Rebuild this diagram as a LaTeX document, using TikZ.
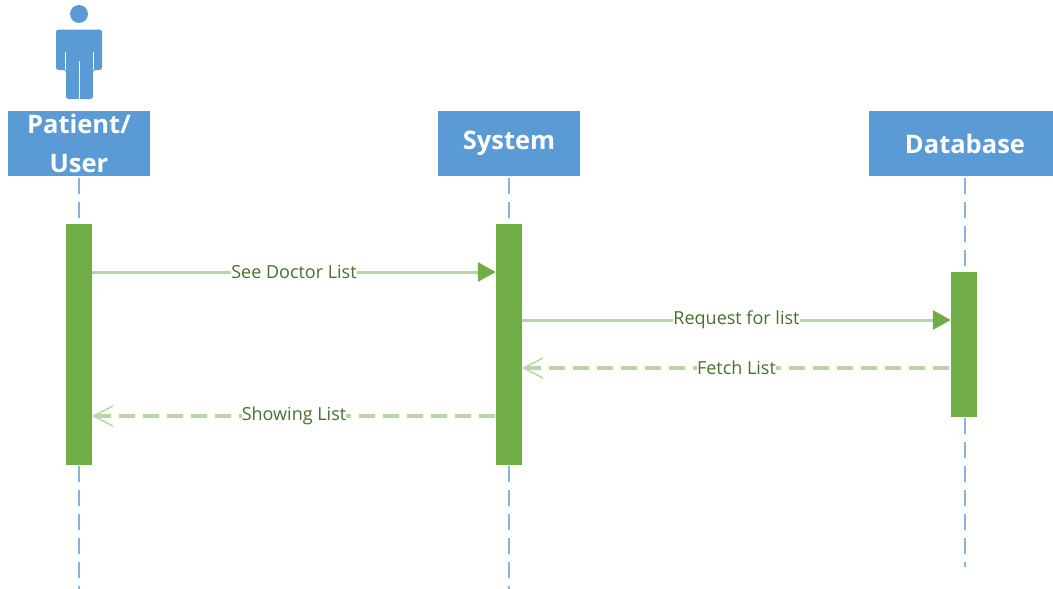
\documentclass[tikz,border=0pt]{standalone}
\usepackage{fontspec}
\setmainfont{Open Sans}
\usetikzlibrary{arrows.meta}
\definecolor{headblue}{HTML}{5B9BD5}
\definecolor{barfill}{HTML}{70AD47}
\definecolor{msgline}{HTML}{B7D6A3}
\tikzset{
  headbox/.style={draw=none, fill=headblue, text=white, font=\bfseries\fontsize{25.5}{39}\selectfont, minimum height=65pt, align=center, inner sep=0pt},
  barbox/.style={draw=none, fill=barfill, minimum width=26pt, inner sep=0pt},
  lifeline/.style={headblue!75!white, line width=2.2pt, dash pattern=on 16pt off 8pt},
  msglabel/.style={midway, fill=white, inner xsep=0pt, inner ysep=1pt, text=barfill!65!black, font=\fontsize{18}{22}\selectfont},
  callmsg/.style={msgline, line width=3pt, -{Triangle[length=18pt,width=19pt,color=barfill]}},
  replymsg/.style={msgline, line width=4pt, dash pattern=on 16pt off 8pt, {Straight Barb[length=19pt,width=20pt,color=msgline,line width=1.5pt]}-},
}
\begin{document}
\begin{tikzpicture}[x=1pt,y=-1pt]
  \useasboundingbox (0,0) rectangle (1053,589);

  % Header boxes
  \node[headbox, minimum width=142pt] (patient) at (79,143.5) {Patient/\\User};
  \node[headbox, minimum width=142pt] (system) at (509,143.5) {System};
  \node[headbox, minimum width=184pt] (database) at (961,143.5) {\hspace*{8pt}Database};

  % Lifelines
  \coordinate (patientend) at (79,589);
  \coordinate (systemend) at (509,589);
  \coordinate (databasetop) at (965,178);
  \coordinate (databaseend) at (965,567);
  \draw[lifeline] (patient.south) ++(0,2) -- (patientend);
  \draw[lifeline] (system.south) ++(0,2) -- (systemend);
  \draw[lifeline] (databasetop) -- (databaseend);

  % Activation bars
  \node[barbox, minimum height=241pt] (patientbar) at (79,344.5) {};
  \node[barbox, minimum height=241pt] (systembar) at (509,344.5) {};
  \node[barbox, minimum height=145pt] (databasebar) at (964,344.5) {};

  % Actor figure
  \fill[headblue] (79,14) circle (9pt);
  \fill[headblue, rounded corners=2.5pt] (56,70) -- (56,29.5) -- (102,29.5) -- (102,70) -- (93,70) -- (93,99) -- (66,99) -- (66,70) -- cycle;
  \draw[white, line width=1pt] (79,61) -- (79,99);
  \draw[white, line width=1pt] (65,52) -- (65,70);
  \draw[white, line width=1pt] (93,52) -- (93,70);

  % Messages
  \draw[callmsg] (patientbar.east |- 0,272) -- (systembar.west |- 0,272) node[msglabel] (seelist) {See Doctor List};
  \draw[callmsg] (systembar.east |- 0,320) -- (databasebar.west |- 0,320) node[msglabel] (requestlist) {Request for list};
  \draw[replymsg] (systembar.east |- 0,368) -- (databasebar.west |- 0,368) node[msglabel] (fetchlist) {Fetch List};
  \draw[replymsg] (patientbar.east |- 0,416) -- (systembar.west |- 0,416) node[msglabel] (showlist) {Showing List};
\end{tikzpicture}
\end{document}
